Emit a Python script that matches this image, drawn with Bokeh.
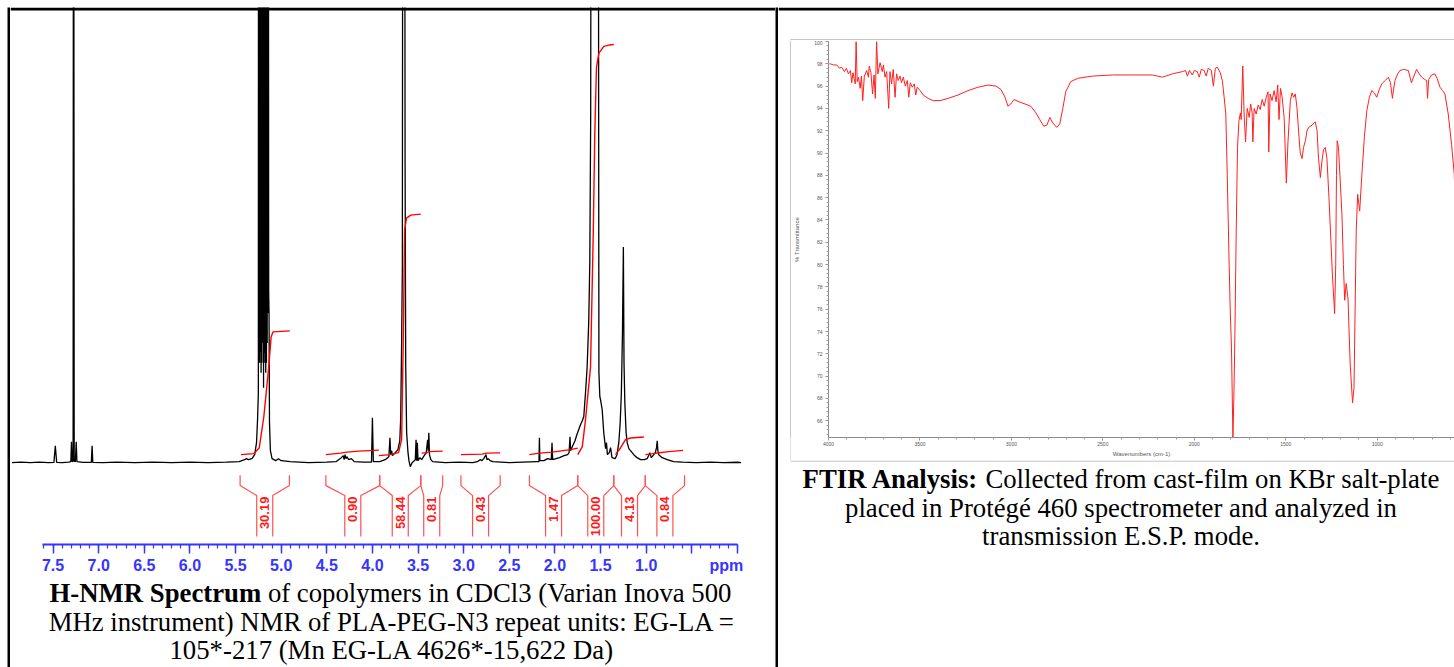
import math
from bokeh.plotting import figure
from bokeh.layouts import row, column
from bokeh.models import Range1d, FixedTicker, PrintfTickFormatter
from bokeh.core.properties import value
from bokeh.embed import file_html
from bokeh.resources import INLINE

# ---------------- H-NMR data (ppm, intensity; baseline = 0) ----------------
nmr_ppm = [7.95, 7.85, 7.75, 7.65, 7.55, 7.49, 7.475, 7.46, 7.40, 7.33, 7.305, 7.298, 7.29, 7.28,
           7.275, 7.268, 7.255, 7.246, 7.238, 7.17, 7.08, 7.072, 7.064, 6.95, 6.80, 6.60, 6.40,
           6.20, 6.00, 5.80, 5.60, 5.46, 5.40, 5.38, 5.36, 5.32, 5.29, 5.27, 5.258, 5.250,
           5.248, 5.244, 5.240, 5.236, 5.232, 5.228, 5.224, 5.220, 5.216, 5.212, 5.208, 5.204,
           5.200, 5.196, 5.193, 5.189, 5.185, 5.181, 5.177, 5.173, 5.169, 5.165, 5.161, 5.157,
           5.153, 5.149, 5.145, 5.141, 5.137, 5.133, 5.128, 5.118, 5.10,
           5.06, 5.03, 5.00, 4.90, 4.70, 4.50, 4.40, 4.37, 4.34, 4.32, 4.31, 4.30, 4.29, 4.28,
           4.26, 4.23, 4.20, 4.10, 4.01, 4.00, 3.99, 3.92, 3.86, 3.82, 3.808, 3.800, 3.79, 3.78,
           3.75, 3.72, 3.70, 3.69, 3.68, 3.672, 3.665, 3.650, 3.642, 3.635, 3.625, 3.61, 3.60,
           3.585, 3.565, 3.53, 3.522, 3.515, 3.508, 3.50, 3.48, 3.46, 3.44, 3.41, 3.395, 3.388,
           3.382, 3.375, 3.36, 3.34, 3.20, 3.05, 2.90, 2.85, 2.82, 2.80, 2.78, 2.755, 2.745,
           2.73, 2.71, 2.68, 2.50, 2.35, 2.20, 2.175, 2.17, 2.165, 2.12, 2.08, 2.04, 2.032,
           2.025, 1.95, 1.90, 1.86, 1.845, 1.835, 1.828, 1.815, 1.80, 1.78, 1.76, 1.74, 1.72,
           1.70, 1.684, 1.665, 1.647, 1.630, 1.618, 1.608, 1.600, 1.585, 1.575, 1.565, 1.555,
           1.545, 1.528, 1.518, 1.508, 1.50, 1.482, 1.465, 1.445, 1.435, 1.425, 1.405, 1.39,
           1.375, 1.34, 1.32, 1.30, 1.285, 1.272, 1.260, 1.250, 1.243, 1.234, 1.22, 1.208,
           1.19, 1.172, 1.136, 1.10, 1.062, 1.02, 0.989, 0.96, 0.945, 0.934, 0.90, 0.887,
           0.879, 0.872, 0.862, 0.825, 0.77, 0.70, 0.60, 0.45, 0.30, 0.15, 0.00, -0.04]
nmr_int = [0, 0.6, 0, 0.5, 0, 0.3, 17, 0.3, 0, 0.6, 1, 21, 1, 1.5,
           1000, 1.5, 1, 21, 1, 0.3, 0.3, 17, 0.3, 0, 0.6, 0, 0.5,
           0, 0.5, 0, 0.5, 1, 3, 4, 3, 4, 8, 20, 45, 70,
           1000, 120, 1000, 100, 1000, 110, 1000, 90, 1000, 100, 1000, 120,
           1000, 400, 75, 1000, 110, 1000, 100, 1000, 90, 1000, 100, 1000,
           120, 1000, 150, 1000, 173, 150, 40, 12, 4,
           2, 4, 2, 1, 0, 0.5, 1, 3, 5, 7, 3, 8, 4, 6,
           3, 4, 1, 0.5, 0.5, 45, 1, 1, 3, 6, 25, 8, 12, 7,
           10, 13, 22, 45, 120, 196, 1000, 1000, 300, 96, 30, 10, 2,
           -4, 0, 3, 23, 2, 20, 2, 5, 3, 6, 10, 23, 12,
           30, 8, 3, 1, 0, 0.5, 0, 1, 3, 2, 4, 8, 3,
           4, 2, 1, 0, 0.5, 1, 1, 25, 2, 2, 4, 3, 20,
           3, 5, 7, 8, 10, 26, 12, 15, 18, 22, 28, 33, 38,
           42, 46, 70, 96, 140, 200, 350, 1000, 1000, 700, 600, 700,
           1000, 1000, 90, 66, 63, 53, 30, 14, 20, 8, 10, 15,
           5, 4, 8, 20, 40, 70, 130, 216, 100, 60, 30, 20,
           14, 12, 8, 5, 3, 3, 4, 10, 5, 6, 10, 15,
           22, 12, 8, 5, 3, 1, 0.5, 0, 0.5, 0, 0.4, 0]

# integral (red) curves: one list per integrated region
integral_ppm = [
    [5.44, 5.30, 5.24, 5.19, 5.136, 5.11, 5.09, 4.905],
    [4.51, 4.35, 4.28, 4.15, 3.93],
    [3.93, 3.80, 3.714, 3.68, 3.66, 3.648, 3.626, 3.58, 3.47],
    [3.46, 3.40, 3.38, 3.23],
    [3.03, 2.80, 2.75, 2.60],
    [2.28, 2.17, 2.03, 1.83, 1.75],
    [1.75, 1.70, 1.665, 1.61, 1.58, 1.563, 1.545, 1.519, 1.465, 1.40, 1.355],
    [1.336, 1.282, 1.227, 1.172, 1.026],
    [1.008, 0.93, 0.879, 0.75, 0.595],
]
integral_h = [
    [8, 9, 15, 46, 96, 126, 131, 132],
    [8, 9.5, 10.5, 11.5, 12.5],
    [7, 8, 10, 23, 133, 233, 245, 248, 249],
    [9.5, 10, 11, 11.5],
    [8, 8.5, 9.5, 9.8],
    [8, 9.5, 10.5, 13, 14.5],
    [8, 16, 43, 96, 230, 330, 396, 410, 417, 418.5, 419],
    [8, 14.7, 23, 24.7, 25.7],
    [8, 9, 9.7, 11, 12.3],
]

# integration regions (ppm) and their values
region_start = [5.45, 4.51, 3.92, 3.47, 3.03, 2.28, 1.75, 1.355, 1.01]
region_end = [4.91, 3.92, 3.47, 3.23, 2.60, 1.75, 1.355, 1.01, 0.58]
region_label = ["30.19", "0.90", "58.44", "0.81", "0.43", "1.47", "100.00", "4.13", "0.84"]

nmr_major_ticks = [0.0, 0.5, 1.0, 1.5, 2.0, 2.5, 3.0, 3.5, 4.0, 4.5, 5.0, 5.5, 6.0, 6.5, 7.0, 7.5]
nmr_minor_ticks = [round(0.1 * i, 1) for i in range(0, 77)]
nmr_unit_label = "ppm"

# ---------------- FTIR data (wavenumber cm-1, % transmittance) ----------------
ftir_wn = [3995, 3991, 3973, 3955, 3940, 3928, 3913, 3902, 3891, 3880, 3873, 3866, 3854, 3849,
           3843, 3836, 3827, 3820, 3813, 3804, 3791, 3782, 3777, 3768, 3759, 3751, 3744, 3737,
           3730, 3718, 3706, 3700, 3691, 3682, 3671, 3664, 3655, 3646, 3636, 3628, 3619, 3609,
           3601, 3591, 3580, 3569, 3561, 3553, 3542, 3531, 3523, 3515, 3499, 3482, 3455, 3428,
           3390, 3346, 3292, 3237, 3183, 3128, 3084, 3057, 3035, 3019, 3003, 2986, 2959, 2926,
           2894, 2866, 2845, 2823, 2806, 2790, 2774, 2752, 2736, 2719, 2703, 2676, 2637, 2556,
           2447, 2338, 2229, 2174, 2120, 2065, 2048, 2038, 2027, 2011, 2000, 1984, 1973, 1962,
           1946, 1935, 1924, 1907, 1896, 1885, 1875, 1858, 1847, 1837, 1828, 1820, 1811, 1804,
           1797, 1789, 1784, 1778, 1771, 1764, 1756, 1748, 1744, 1735, 1728, 1720, 1711, 1700,
           1692, 1684, 1680, 1673, 1662, 1651, 1640, 1629, 1618, 1607, 1597, 1593, 1586, 1575,
           1564, 1553, 1544, 1537, 1529, 1520, 1509, 1497, 1488, 1475, 1466, 1457, 1448, 1439,
           1428, 1421, 1411, 1403, 1393, 1384, 1375, 1357, 1339, 1329, 1321, 1311, 1302, 1294,
           1284, 1275, 1264, 1253, 1245, 1233, 1227, 1223, 1219, 1212, 1204, 1193, 1185, 1178,
           1170, 1160, 1153, 1148, 1135, 1127, 1124, 1115, 1107, 1096, 1084, 1070, 1057, 1043,
           1030, 1016, 1003, 989, 975, 957, 939, 928, 917, 910, 903, 888, 876, 856, 830, 821,
           813, 802, 785, 771, 757, 741, 730, 725, 719, 703, 685, 673, 657, 643, 630, 612, 594,
           579, 572, 561, 539]
ftir_t = [98.0, 98.0, 97.9, 97.9, 97.6, 97.7, 97.3, 97.6, 97.1, 97.4, 96.3, 97.2, 96.2, 100.0,
          96.4, 96.8, 95.8, 96.9, 94.7, 96.9, 97.4, 96.8, 97.8, 97.2, 95.3, 97.0, 94.9, 100.0,
          97.1, 98.1, 97.3, 97.9, 96.8, 97.3, 94.0, 97.3, 96.2, 97.5, 95.0, 97.1, 96.5, 96.9,
          96.3, 96.8, 96.0, 96.5, 95.0, 96.3, 95.9, 96.2, 95.2, 95.9, 95.6, 95.2, 94.9, 94.7,
          94.7, 94.9, 95.2, 95.6, 95.9, 96.1, 96.0, 95.7, 95.0, 94.2, 94.4, 94.8, 94.6, 94.4,
          94.2, 93.6, 93.0, 92.4, 92.5, 93.2, 92.7, 92.3, 92.6, 94.0, 95.5, 96.4, 96.7, 96.9,
          97.0, 97.0, 97.0, 96.8, 97.1, 97.3, 97.4, 96.9, 97.4, 97.0, 97.4, 97.3, 96.8, 97.5,
          97.4, 96.9, 97.6, 97.4, 96.0, 97.6, 97.7, 97.2, 96.5, 95.0, 93.5, 88.0, 81.0, 76.0,
          72.6, 64.5, 68.0, 74.0, 83.0, 90.5, 92.9, 93.6, 93.0, 97.8, 93.5, 91.0, 94.0, 93.2,
          94.4, 93.6, 91.0, 94.0, 93.5, 94.3, 93.9, 94.8, 94.2, 95.0, 95.5, 90.1, 95.3, 94.7,
          95.6, 94.6, 96.1, 93.0, 95.8, 95.0, 93.2, 87.3, 91.0, 94.7, 95.4, 95.0, 95.3, 94.1,
          91.5, 90.0, 89.5, 90.5, 91.1, 92.0, 92.3, 92.5, 92.8, 92.0, 89.5, 87.8, 89.3, 90.3,
          90.5, 89.5, 86.0, 82.0, 79.0, 75.6, 80.0, 88.0, 91.1, 90.5, 88.0, 84.5, 80.0, 76.8,
          78.3, 77.0, 73.5, 71.1, 67.6, 69.0, 72.6, 83.0, 86.3, 84.8, 88.1, 91.5, 93.8, 95.0,
          95.6, 95.4, 95.0, 95.7, 96.2, 96.5, 96.8, 96.3, 94.9, 95.8, 96.5, 97.1, 97.4, 97.5, 97.4, 96.8,
          96.3, 96.8, 97.5, 97.1, 96.8, 96.6, 96.5, 94.9, 96.6, 97.0, 97.1, 96.7, 95.9, 95.6, 95.3, 93.5, 90.8,
          88.1, 84.2, 80.0, 75.0]
ftir_xticks = [4000, 3500, 3000, 2500, 2000, 1500, 1000]
ftir_xminor = list(range(4000, 550, -100))
ftir_yticks = [66, 68, 70, 72, 74, 76, 78, 80, 82, 84, 86, 88, 90, 92, 94, 96, 98, 100]
ftir_yminor = [round(64.4 + 0.4 * i, 1) for i in range(0, 90)]

# ---------------- captions ----------------
nmr_cap_bold = "H-NMR Spectrum"
nmr_cap_rest = "of copolymers in CDCl3 (Varian Inova 500"
nmr_cap_line2 = "MHz instrument) NMR of PLA-PEG-N3 repeat units: EG-LA ="
nmr_cap_line3 = "105*-217 (Mn EG-LA 4626*-15,622 Da)"
ftir_cap_bold = "FTIR Analysis:"
ftir_cap_rest = "Collected from cast-film on KBr salt-plate"
ftir_cap_line2 = "placed in Protégé 460 spectrometer and analyzed in"
ftir_cap_line3 = "transmission E.S.P. mode."

SERIF = value("Liberation Serif")
CAP_SIZE = "26.75px"
BLUE = "#3535ff"
BORDER = "black"
BOX_GREY = "#8c8c8c"


def block(w, h, color):
    f = figure(width=w, height=h, toolbar_location=None, output_backend="svg",
               x_axis_type=None, y_axis_type=None, min_border=0,
               x_range=Range1d(0, 1), y_range=Range1d(0, 1),
               background_fill_color=color, border_fill_color=color,
               outline_line_color=None)
    return f


def pixel_fig(w, h):
    # plain white panel whose data units are its own pixels (y downwards)
    f = figure(width=w, height=h, toolbar_location=None, output_backend="svg",
               x_axis_type=None, y_axis_type=None, min_border=0,
               x_range=Range1d(0, w), y_range=Range1d(h, 0),
               background_fill_color="white", border_fill_color="white",
               outline_line_color=None)
    return f


# ---------------- NMR figure ----------------
nmr = figure(width=765, height=569, x_range=Range1d(7.966, -0.417), y_range=Range1d(-82, 456),
             toolbar_location=None, output_backend="svg", y_axis_type=None,
             min_border_left=0, min_border_right=0, min_border_top=0, min_border_bottom=31,
             outline_line_color=None, background_fill_color="white", border_fill_color="white")
nmr.grid.visible = False

nmr.line(nmr_ppm, nmr_int, color="black", line_width=1.3)
nmr.multi_line(integral_ppm, integral_h, color="#ff0000", line_width=1.4)

# table top border across this cell
nmr.quad(left=[7.966], right=[-0.417], bottom=[453], top=[456], color=BORDER, line_color=None)

# integration brackets
gap = 0.0877
y_top, y_mid, y_low, y_bot = -12.7, -23.0, -33.0, -74.0
bx, by = [], []
centers = []
for s, e in zip(region_start, region_end):
    c = (s + e) / 2.0
    centers.append(c)
    bx.append([s, s, c + gap, c + gap])
    by.append([y_top, y_mid, y_low, y_bot])
    bx.append([e, e, c - gap, c - gap])
    by.append([y_top, y_mid, y_low, y_bot])
nmr.multi_line(bx, by, color="#ff5050", line_width=1.2)
nmr.text(x=centers, y=[-34.0] * len(centers), text=region_label, angle=math.pi / 2,
         text_align="right", text_baseline="middle", text_font=value("Liberation Sans"),
         text_font_style="bold", text_font_size="13px", text_color="#ff1a1a")

ax = nmr.xaxis[0]
ax.ticker = FixedTicker(ticks=nmr_major_ticks, minor_ticks=nmr_minor_ticks)
ax.formatter = PrintfTickFormatter(format="%.1f")
# unit label replaces the 0.0 label (shifted left with trailing no-break spaces); 0.5 unlabeled
ax.major_label_overrides = {0: nmr_unit_label + "\u00a0" * 5, 0.5: ""}
ax.bounds = (0.0, 7.62)
ax.axis_line_color = BLUE
ax.axis_line_width = 2
ax.major_tick_line_color = BLUE
ax.major_tick_line_width = 1.5
ax.major_tick_in = 0
ax.major_tick_out = 9
ax.minor_tick_line_color = BLUE
ax.minor_tick_line_width = 1.2
ax.minor_tick_in = 0
ax.minor_tick_out = 4
ax.major_label_text_color = BLUE
ax.major_label_text_font = "Liberation Sans"
ax.major_label_text_font_style = "bold"
ax.major_label_text_font_size = "16px"
ax.major_label_standoff = 3

# NMR caption
cap_l = pixel_fig(765, 91)
cap_l.text(x=[39.0], y=[16.5], text=[nmr_cap_bold], text_font=SERIF, text_font_style="bold",
           text_font_size=CAP_SIZE, text_align="left", text_baseline="middle", text_color="black")
cap_l.text(x=[257.4], y=[16.5], text=[nmr_cap_rest], text_font=SERIF,
           text_font_size=CAP_SIZE, text_align="left", text_baseline="middle", text_color="black")
cap_l.text(x=[381.5, 381.5], y=[45.5, 73.5], text=[nmr_cap_line2, nmr_cap_line3], text_font=SERIF,
           text_font_size=CAP_SIZE, text_align="center", text_baseline="middle", text_color="black")

# ---------------- FTIR figure ----------------
ftir = figure(width=663, height=420, x_range=Range1d(4000, 577.7), y_range=Range1d(64.5, 100),
              toolbar_location=None, output_backend="svg",
              min_border_left=35, min_border_right=0, min_border_top=1, min_border_bottom=23,
              outline_line_color=None, background_fill_color="white", border_fill_color="white")
ftir.grid.visible = False
ftir.line(ftir_wn, ftir_t, color="#ff2020", line_width=1)

fx = ftir.xaxis[0]
fx.ticker = FixedTicker(ticks=ftir_xticks, minor_ticks=ftir_xminor)
fx.axis_label = "Wavenumbers (cm-1)"
fy = ftir.yaxis[0]
fy.ticker = FixedTicker(ticks=ftir_yticks, minor_ticks=ftir_yminor)
fy.axis_label = "% Transmittance"
for a in (fx, fy):
    a.axis_line_color = "#8a8a8a"
    a.axis_line_width = 1
    a.major_tick_line_color = "#8a8a8a"
    a.minor_tick_line_color = "#a0a0a0"
    a.major_tick_in = 0
    a.major_tick_out = 3
    a.minor_tick_in = 0
    a.minor_tick_out = 2
    a.major_label_text_font = "Liberation Sans"
    a.major_label_text_font_size = "5px"
    a.major_label_text_color = "#555555"
    a.axis_label_text_font = "Liberation Sans"
    a.axis_label_text_font_size = "6px"
    a.axis_label_text_font_style = "normal"
    a.axis_label_text_color = "#555555"
fx.major_label_standoff = 1
fx.axis_label_standoff = 2
fy.major_label_standoff = 3
fy.axis_label_standoff = 11

# right cell: top band (table border + top edge of the spectrum image box)
top_r = pixel_fig(676, 33)
top_r.quad(left=[0], right=[676], top=[0], bottom=[3], color=BORDER, line_color=None)
top_r.quad(left=[12], right=[676], top=[32], bottom=[33], color=BOX_GREY, line_color=None)

# FTIR caption (with the bottom edge of the image box on top)
cap_r = pixel_fig(676, 207)
cap_r.quad(left=[12], right=[676], top=[0], bottom=[1], color="#b4b4b4", line_color=None)
cap_r.text(x=[24.1], y=[18.5], text=[ftir_cap_bold], text_font=SERIF, text_font_style="bold",
           text_font_size=CAP_SIZE, text_align="left", text_baseline="middle", text_color="black")
cap_r.text(x=[206.9], y=[18.5], text=[ftir_cap_rest], text_font=SERIF,
           text_font_size=CAP_SIZE, text_align="left", text_baseline="middle", text_color="black")
cap_r.text(x=[342.5, 342.5], y=[47.0, 75.5], text=[ftir_cap_line2, ftir_cap_line3], text_font=SERIF,
           text_font_size=CAP_SIZE, text_align="center", text_baseline="middle", text_color="black")

# ---------------- page layout ----------------
left_cell = column(nmr, cap_l)
ftir_box = row(block(12, 420, "white"), block(1, 420, BOX_GREY), ftir)
right_cell = column(top_r, ftir_box, cap_r)
table = row(block(3, 660, BORDER), left_cell, block(3, 660, BORDER), right_cell)
page = column(block(1454, 7, "white"), row(block(7, 660, "white"), table))

open("out.html", "w").write(file_html(page, INLINE, title="H-NMR and FTIR"))
